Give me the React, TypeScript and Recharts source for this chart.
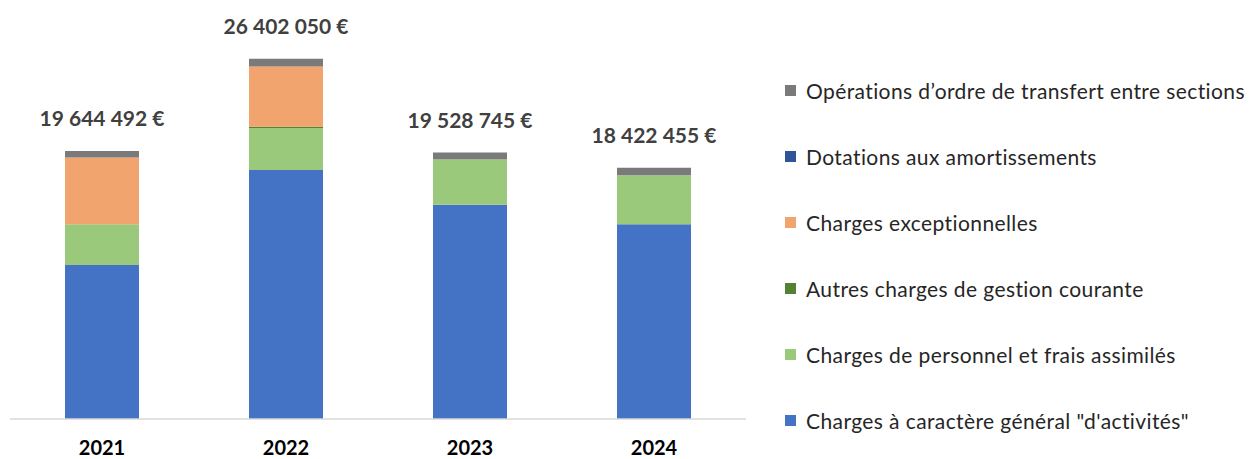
import { Bar, BarChart, LabelList, XAxis, YAxis } from "recharts";

const years = ["2021", "2022", "2023", "2024"];

const chargesGenerales = [11280000, 18250000, 15700000, 14280000];
const chargesPersonnel = [2990000, 3080000, 3320000, 3580000];
const autresCharges = [0, 100000, 20000, 0];
const chargesExceptionnelles = [4890000, 4410000, 0, 0];
const dotations = [0, 0, 0, 0];
const operationsOrdre = [484492, 562050, 488745, 562455];

// bottom to top of the stack
const series = [
  { key: "generales", name: "Charges à caractère général \"d'activités\"", color: "#4472C4", values: chargesGenerales },
  { key: "personnel", name: "Charges de personnel et frais assimilés", color: "#9BC97B", values: chargesPersonnel },
  { key: "autres", name: "Autres charges de gestion courante", color: "#548235", values: autresCharges },
  { key: "exceptionnelles", name: "Charges exceptionnelles", color: "#F2A46F", values: chargesExceptionnelles },
  { key: "dotations", name: "Dotations aux amortissements", color: "#2F5597", values: dotations },
  { key: "ordre", name: "Opérations d’ordre de transfert entre sections", color: "#7A7A7A", values: operationsOrdre }
];

const rows = years.map((year, i) => {
  const row: Record<string, string | number> = { year };
  let total = 0;
  for (const s of series) {
    row[s.key] = s.values[i];
    total += s.values[i];
  }
  row.total = total;
  return row;
});

const FONT = "Lato, 'Open Sans', sans-serif";

function formatEuro(v: number) {
  return String(Math.round(v)).replace(/\B(?=(\d{3})+(?!\d))/g, " ") + " €";
}

function TotalLabel(props: any) {
  const { x, y, width, index } = props;
  return (
    <text
      x={Number(x) + Number(width) / 2}
      y={Number(y) - 25}
      textAnchor="middle"
      fill="#404040"
      fontFamily={FONT}
      fontWeight={700}
      fontSize={21}
    >
      {formatEuro(rows[index].total as number)}
    </text>
  );
}

export default function App() {
  return (
    <div style={{ position: "absolute", left: 0, top: 0, width: 1259, height: 459, background: "#fff" }}>
      <BarChart
        width={1259}
        height={459}
        data={rows}
        margin={{ top: 37, right: 513, bottom: 0, left: 10 }}
        barSize={74}
      >
        <XAxis
          dataKey="year"
          height={40}
          axisLine={{ stroke: "#d9d9d9", strokeWidth: 1.5 }}
          tickLine={false}
          tickMargin={16}
          tick={{ fill: "#000", fontFamily: FONT, fontWeight: 700, fontSize: 20 }}
        />
        <YAxis hide domain={[0, 28000000]} />
        {series.map((s, i) => (
          <Bar key={s.key} dataKey={s.key} name={s.name} stackId="a" fill={s.color} isAnimationActive={false}>
            {i === series.length - 1 && <LabelList dataKey="total" content={TotalLabel} />}
          </Bar>
        ))}
      </BarChart>
      <div style={{ position: "absolute", left: 785, top: 57, fontFamily: FONT, fontSize: 21, letterSpacing: 0.4, color: "#262626" }}>
        {[...series].reverse().map((s) => (
          <div key={s.key} style={{ height: 66, display: "flex", alignItems: "center", whiteSpace: "nowrap" }}>
            <span style={{ width: 11, height: 11, background: s.color, display: "inline-block", marginRight: 10, flexShrink: 0 }} />
            {s.name}
          </div>
        ))}
      </div>
    </div>
  );
}
